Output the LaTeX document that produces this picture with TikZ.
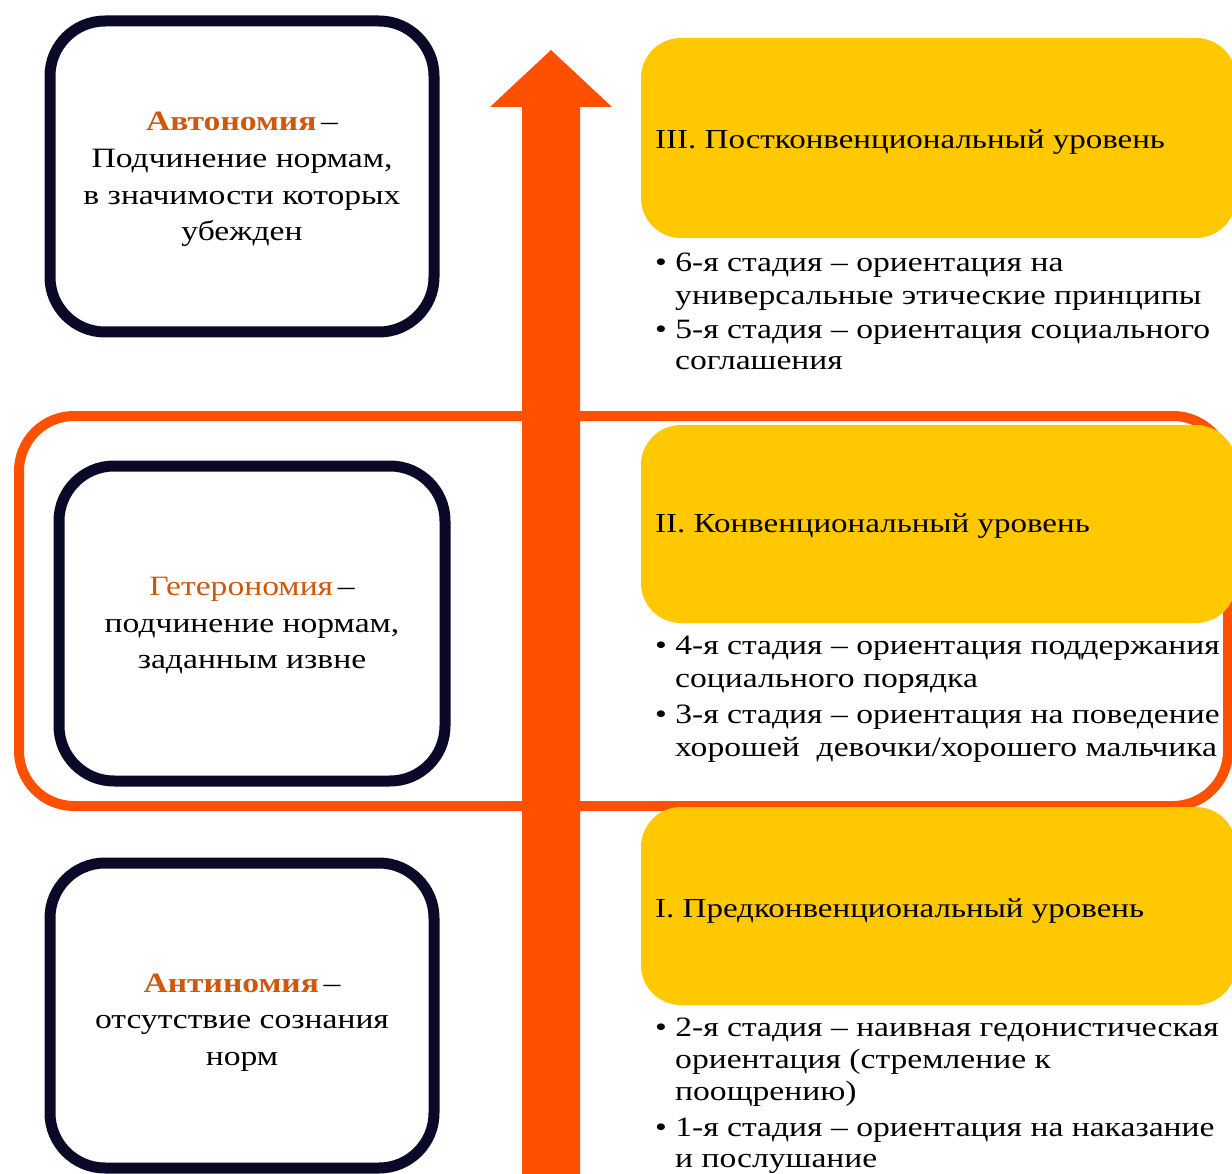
\documentclass[tikz,border=0pt]{standalone}
\usepackage{fontspec}
\setmainfont{Liberation Serif}[FakeStretch=1.2]
\definecolor{navy}{RGB}{10,10,40}
\definecolor{orng}{RGB}{255,80,0}
\definecolor{ylw}{RGB}{255,200,0}
\definecolor{term}{RGB}{205,88,15}
\begin{document}
\begin{tikzpicture}[x=1pt,y=-1pt,
  normbox/.style={draw=navy,line width=11pt,rounded corners=55pt},
  lvlbox/.style={fill=ylw,rounded corners=40pt},
  ln/.style={anchor=base west,inner sep=0pt,font=\fontsize{28}{34}\selectfont},
  ttl/.style={anchor=base west,inner sep=0pt,font=\fontsize{27.5}{32}\selectfont},
  ctr/.style={anchor=base,inner sep=0pt,font=\fontsize{28}{34}\selectfont}]
\useasboundingbox[fill=white] (0,0) rectangle (1232,1174);
% conventional band
\draw[orng,line width=10pt,rounded corners=55pt] (19,416) rectangle (1228,806);
% left boxes
\draw[normbox] (50,21) rectangle (434,332);
\draw[normbox] (59,466) rectangle (445,781);
\draw[normbox] (50,863) rectangle (434,1168);
% arrow
\fill[orng] (522,1180) -- (522,107) -- (490,107) -- (551,50) -- (612,107) -- (580,107) -- (580,1180) -- cycle;
% level boxes
\fill[lvlbox] (641,38) rectangle (1236,238);
\fill[lvlbox] (641,425) rectangle (1236,623);
\fill[lvlbox] (641,807) rectangle (1236,1005);
% left texts
\node[ctr] (a1) at (242,131) {\textcolor{term}{\bfseries Автономия}\,–};
\node[ctr] (a2) at (242,168) {Подчинение нормам,};
\node[ctr] (a3) at (242,205) {в значимости которых};
\node[ctr] (a4) at (242,241) {убежден};
\node[ctr] (g1) at (252,595) {\textcolor{term}{Гетерономия}\,–};
\node[ctr] (g2) at (252,632) {подчинение нормам,};
\node[ctr] (g3) at (252,668) {заданным извне};
\node[ctr] (n1) at (242,992) {\textcolor{term}{\bfseries Антиномия}\,–};
\node[ctr] (n2) at (242,1028) {отсутствие сознания};
\node[ctr] (n3) at (242,1065) {норм};
% level titles
\node[ttl] (t3) at (655,149) {III. Постконвенциональный уровень};
\node[ttl] (t2) at (655,532) {II. Конвенциональный уровень};
\node[ttl] (t1) at (655,917) {I. Предконвенциональный уровень};
% bullets level III
\node[ln] (s6a) at (655,272) {• 6-я стадия – ориентация на};
\node[ln] (s6b) at (675,305) {универсальные этические принципы};
\node[ln] (s5a) at (655,339) {• 5-я стадия – ориентация социального};
\node[ln] (s5b) at (675,370) {соглашения};
% bullets level II
\node[ln] (s4a) at (655,654) {• 4-я стадия – ориентация поддержания};
\node[ln] (s4b) at (675,687) {социального порядка};
\node[ln] (s3a) at (655,723) {• 3-я стадия – ориентация на поведение};
\node[ln] (s3b) at (675,756) {хорошей~ девочки/хорошего мальчика};
% bullets level I
\node[ln] (s2a) at (655,1036) {• 2-я стадия – наивная гедонистическая};
\node[ln] (s2b) at (675,1068) {ориентация (стремление к};
\node[ln] (s2c) at (675,1100) {поощрению)};
\node[ln] (s1a) at (655,1136) {• 1-я стадия – ориентация на наказание};
\node[ln] (s1b) at (675,1167) {и послушание};
\end{tikzpicture}
\end{document}
